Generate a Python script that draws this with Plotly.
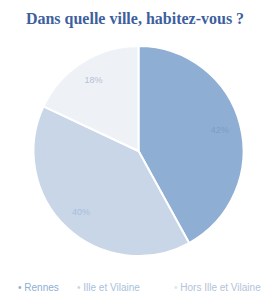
import plotly.graph_objects as go

labels = ["Rennes", "Ille et Vilaine", "Hors Ille et Vilaine"]
values = [42, 40, 18]
colors = ["#8eaed4", "#c8d6e8", "#eef2f7"]
text_colors = ["#7f9dc6", "#a9bdd8", "#b5c1d3"]
legend_text_colors = ["#8eaed4", "#a9bfdc", "#b3c3da"]
bullet_colors = ["#8eaed4", "#c8d6e8", "#dfe6f0"]
legend_x = [16, 75, 172]  # pixel start of each legend entry

W, H = 270, 297
dom = dict(x=[0.124, 0.902], y=[0.138, 0.845])

fig = go.Figure()
# base pie (colours, no text)
fig.add_trace(go.Pie(
    labels=labels, values=values, sort=False, direction="clockwise", rotation=0,
    marker=dict(colors=colors, line=dict(color="white", width=2)),
    textinfo="none", domain=dom, showlegend=False, hoverinfo="label+percent",
))
# overlay ring to place percentage labels towards the rim
fig.add_trace(go.Pie(
    labels=labels, values=values, sort=False, direction="clockwise", rotation=0,
    hole=0.6,
    marker=dict(colors=["rgba(0,0,0,0)"] * 3, line=dict(width=0)),
    textinfo="percent", texttemplate="%{percent:.0%}",
    textposition="inside", insidetextorientation="horizontal",
    textfont=dict(family="Liberation Sans", size=9, color=text_colors),
    domain=dom, showlegend=False, hoverinfo="skip",
))

for lab, bcol, tcol, px in zip(labels, bullet_colors, legend_text_colors, legend_x):
    fig.add_annotation(
        x=px / W, y=1 - 287 / H, xref="paper", yref="paper",
        xanchor="left", yanchor="middle", showarrow=False,
        text=f'<span style="color:{bcol}">•</span> {lab}',
        font=dict(family="Liberation Sans", size=10, color=tcol),
    )

fig.update_layout(
    width=W, height=H,
    margin=dict(l=0, r=0, t=0, b=0),
    paper_bgcolor="white", plot_bgcolor="white",
    title=dict(
        text="<b>Dans quelle ville, habitez-vous ?</b>",
        x=0.5, xanchor="center", y=1 - 18 / H, yanchor="middle",
        font=dict(family="Liberation Serif", size=16, color="#3d5f9e"),
    ),
    showlegend=False,
)

fig.write_html(
    "out.html",
    config={"displayModeBar": False},
    post_script="document.body.style.margin='0';document.body.style.overflow='hidden';",
)
